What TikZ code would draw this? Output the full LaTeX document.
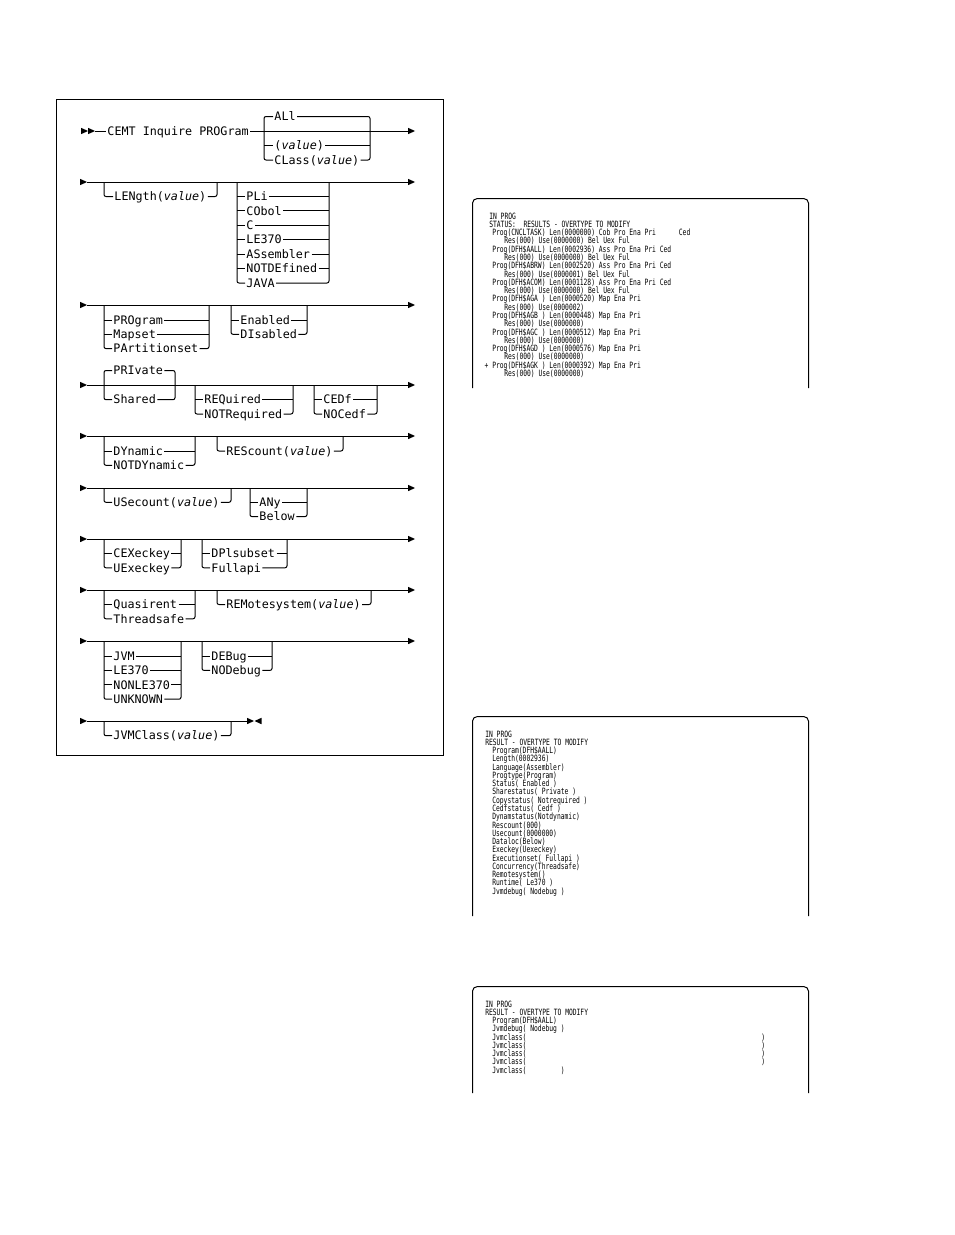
\documentclass[tikz,border=0pt]{standalone}
\usepackage{fontspec}
\newfontfamily\synf{DejaVu Sans Mono}
\newfontfamily\scrf{DejaVu Sans Mono}[FakeStretch=0.73]
\newcommand\rtri[2]{\fill (#1,#2-3.2) -- (#1+7,#2) -- (#1,#2+3.2) -- cycle;}
\newcommand\ltri[2]{\fill (#1+7,#2-3.2) -- (#1,#2) -- (#1+7,#2+3.2) -- cycle;}
\newcommand\sline[4]{\node[scrtext] (#1) at (#2,#3) {#4};}
\tikzset{
  syn/.style={line width=0.75pt},
  rc/.style={syn, rounded corners=1.5pt},
  synitem/.style={anchor=west, font=\synf\fontsize{8.8}{10}\selectfont, inner xsep=0.9pt, inner ysep=0pt, text height=6.4pt, text depth=0pt},
  scrtext/.style={anchor=west, font=\scrf\fontsize{6.5}{7}\selectfont, inner sep=0pt, text height=4.7pt, text depth=0pt},
  outerframe/.style={line width=0.75pt},
  scrbox/.style={line width=0.75pt}
}
\begin{document}
\begin{tikzpicture}[x=0.75pt,y=-0.75pt]
\useasboundingbox (0,0) rectangle (954,1235);
\fill[white] (0,0) rectangle (954,1235);
% outer frame
\draw[outerframe] (56.5,99.5) rectangle (443.5,755.5);

% ---------- Row 1 ----------
\rtri{81}{131}\rtri{88}{131}
\coordinate (r1s) at (95,131); \coordinate (r1e) at (408,131);
\node[synitem] (cemt) at (106,131) {CEMT Inquire PROGram};
\draw[syn] (r1s) -- (cemt.west); \draw[syn] (cemt.east) -- (r1e);
\rtri{408}{131}
\node[synitem] (all) at (273,116.5) {ALl};
\node[synitem] (val1) at (273,145.5) {(\textit{value})};
\node[synitem] (cls) at (273,160) {CLass(\textit{value})};
\draw[rc] (all.west) -| (264,131) |- (cls.west);
\draw[syn] (264,145.5) -- (val1.west);
\draw[rc] (all.east) -| (370,131) |- (cls.east);
\draw[syn] (val1.east) -- (370,145.5);

% ---------- Row 2 ----------
\rtri{80}{182}
\coordinate (r2s) at (87,182); \coordinate (r2e) at (408,182);
\draw[syn] (r2s) -- (r2e);
\rtri{408}{182}
\node[synitem] (len) at (113,196.5) {LENgth(\textit{value})};
\draw[rc] (104,182) |- (len.west);
\draw[rc] (len.east) -| (217,182);
\node[synitem] (pli) at (245,196.5) {PLi};
\node[synitem] (cob) at (245,210.9) {CObol};
\node[synitem] (lc) at (245,225.3) {C};
\node[synitem] (le1) at (245,239.7) {LE370};
\node[synitem] (ass) at (245,254.1) {ASsembler};
\node[synitem] (notd) at (245,268.5) {NOTDEfined};
\node[synitem] (java) at (245,283) {JAVA};
\draw[rc] (237,182) |- (java.west);
\foreach \n/\y in {pli/196.5,cob/210.9,lc/225.3,le1/239.7,ass/254.1,notd/268.5}
  {\draw[syn] (237,\y) -- (\n.west); \draw[syn] (\n.east) -- (329,\y);}
\draw[rc] (java.east) -| (329,182);

% ---------- Row 3 ----------
\rtri{80}{305}
\coordinate (r3s) at (87,305); \coordinate (r3e) at (408,305);
\draw[syn] (r3s) -- (r3e);
\rtri{408}{305}
\node[synitem] (prog) at (112,320) {PROgram};
\node[synitem] (maps) at (112,334.3) {Mapset};
\node[synitem] (part) at (112,348.6) {PArtitionset};
\draw[rc] (104,305) |- (part.west);
\draw[syn] (104,320) -- (prog.west); \draw[syn] (prog.east) -- (209,320);
\draw[syn] (104,334.3) -- (maps.west); \draw[syn] (maps.east) -- (209,334.3);
\draw[rc] (part.east) -| (209,305);
\node[synitem] (ena) at (239,320) {Enabled};
\node[synitem] (dis) at (239,334.3) {DIsabled};
\draw[rc] (231,305) |- (dis.west);
\draw[syn] (231,320) -- (ena.west); \draw[syn] (ena.east) -- (307,320);
\draw[rc] (dis.east) -| (307,305);

% ---------- Row 4 ----------
\rtri{80}{385}
\coordinate (r4s) at (87,385); \coordinate (r4e) at (408,385);
\draw[syn] (r4s) -- (r4e);
\rtri{408}{385}
\node[synitem] (pri) at (112,370.5) {PRIvate};
\node[synitem] (sha) at (112,399.7) {Shared};
\draw[rc] (pri.west) -| (104,385) |- (sha.west);
\draw[rc] (pri.east) -| (175,385) |- (sha.east);
\node[synitem] (req) at (203,399.7) {REQuired};
\node[synitem] (notr) at (203,414) {NOTRequired};
\draw[rc] (195,385) |- (notr.west);
\draw[syn] (195,399.7) -- (req.west); \draw[syn] (req.east) -- (293,399.7);
\draw[rc] (notr.east) -| (293,385);
\node[synitem] (cedf) at (322,399.7) {CEDf};
\node[synitem] (noce) at (322,414) {NOCedf};
\draw[rc] (314,385) |- (noce.west);
\draw[syn] (314,399.7) -- (cedf.west); \draw[syn] (cedf.east) -- (377,399.7);
\draw[rc] (noce.east) -| (377,385);

% ---------- Row 5 ----------
\rtri{80}{436}
\coordinate (r5s) at (87,436); \coordinate (r5e) at (408,436);
\draw[syn] (r5s) -- (r5e);
\rtri{408}{436}
\node[synitem] (dyn) at (112,451) {DYnamic};
\node[synitem] (notdy) at (112,465.3) {NOTDYnamic};
\draw[rc] (104,436) |- (notdy.west);
\draw[syn] (104,451) -- (dyn.west); \draw[syn] (dyn.east) -- (195,451);
\draw[rc] (notdy.east) -| (195,436);
\node[synitem] (res) at (225,451) {REScount(\textit{value})};
\draw[rc] (217,436) |- (res.west);
\draw[rc] (res.east) -| (343,436);

% ---------- Row 6 ----------
\rtri{80}{488}
\coordinate (r6s) at (87,488); \coordinate (r6e) at (408,488);
\draw[syn] (r6s) -- (r6e);
\rtri{408}{488}
\node[synitem] (use) at (112,502.3) {USecount(\textit{value})};
\draw[rc] (104,488) |- (use.west);
\draw[rc] (use.east) -| (231,488);
\node[synitem] (any) at (258,502.3) {ANy};
\node[synitem] (bel) at (258,516.6) {Below};
\draw[rc] (250,488) |- (bel.west);
\draw[syn] (250,502.3) -- (any.west); \draw[syn] (any.east) -- (307,502.3);
\draw[rc] (bel.east) -| (307,488);

% ---------- Row 7 ----------
\rtri{80}{539}
\coordinate (r7s) at (87,539); \coordinate (r7e) at (408,539);
\draw[syn] (r7s) -- (r7e);
\rtri{408}{539}
\node[synitem] (cex) at (112,553.5) {CEXeckey};
\node[synitem] (uex) at (112,567.8) {UExeckey};
\draw[rc] (104,539) |- (uex.west);
\draw[syn] (104,553.5) -- (cex.west); \draw[syn] (cex.east) -- (181,553.5);
\draw[rc] (uex.east) -| (181,539);
\node[synitem] (dpl) at (210,553.5) {DPlsubset};
\node[synitem] (full) at (210,567.8) {Fullapi};
\draw[rc] (202,539) |- (full.west);
\draw[syn] (202,553.5) -- (dpl.west); \draw[syn] (dpl.east) -- (287,553.5);
\draw[rc] (full.east) -| (287,539);

% ---------- Row 8 ----------
\rtri{80}{590}
\coordinate (r8s) at (87,590); \coordinate (r8e) at (408,590);
\draw[syn] (r8s) -- (r8e);
\rtri{408}{590}
\node[synitem] (qua) at (112,604.5) {Quasirent};
\node[synitem] (thr) at (112,618.8) {Threadsafe};
\draw[rc] (104,590) |- (thr.west);
\draw[syn] (104,604.5) -- (qua.west); \draw[syn] (qua.east) -- (195,604.5);
\draw[rc] (thr.east) -| (195,590);
\node[synitem] (rem) at (225,604.5) {REMotesystem(\textit{value})};
\draw[rc] (217,590) |- (rem.west);
\draw[rc] (rem.east) -| (371,590);

% ---------- Row 9 ----------
\rtri{80}{641}
\coordinate (r9s) at (87,641); \coordinate (r9e) at (408,641);
\draw[syn] (r9s) -- (r9e);
\rtri{408}{641}
\node[synitem] (jvm) at (112,656) {JVM};
\node[synitem] (le2) at (112,670.4) {LE370};
\node[synitem] (nonle) at (112,684.8) {NONLE370};
\node[synitem] (unk) at (112,699.2) {UNKNOWN};
\draw[rc] (104,641) |- (unk.west);
\foreach \n/\y in {jvm/656,le2/670.4,nonle/684.8}
  {\draw[syn] (104,\y) -- (\n.west); \draw[syn] (\n.east) -- (181,\y);}
\draw[rc] (unk.east) -| (181,641);
\node[synitem] (deb) at (210,656) {DEBug};
\node[synitem] (nodeb) at (210,670.4) {NODebug};
\draw[rc] (202,641) |- (nodeb.west);
\draw[syn] (202,656) -- (deb.west); \draw[syn] (deb.east) -- (272,656);
\draw[rc] (nodeb.east) -| (272,641);

% ---------- Row 10 ----------
\rtri{80}{721}
\coordinate (r10s) at (87,721); \coordinate (r10e) at (247,721);
\draw[syn] (r10s) -- (r10e);
\rtri{247}{721}\ltri{254.5}{721}
\node[synitem] (jvmc) at (112,735.7) {JVMClass(\textit{value})};
\draw[rc] (104,721) |- (jvmc.west);
\draw[rc] (jvmc.east) -| (231,721);

% ---------- Screen boxes ----------
\draw[scrbox] (472.5,388) -- (472.5,203) to[out=90,in=180] (477.5,198.5) -- (803.5,198.5) to[out=0,in=90] (808.5,203) -- (808.5,388);
\draw[scrbox] (472.5,916) -- (472.5,721) to[out=90,in=180] (477.5,716.5) -- (803.5,716.5) to[out=0,in=90] (808.5,721) -- (808.5,916);
\draw[scrbox] (472.5,1093) -- (472.5,991) to[out=90,in=180] (477.5,986.5) -- (803.5,986.5) to[out=0,in=90] (808.5,991) -- (808.5,1093);

% box 1
\def\ya{216}\def\dy{8.28}
\sline{b1a}{489}{\ya}{IN PROG}
\sline{b1b}{489}{\ya+\dy}{STATUS:~~RESULTS - OVERTYPE TO MODIFY}
\sline{b1c}{492}{\ya+2*\dy}{Prog(CNCLTASK) Len(0000000) Cob Pro Ena Pri~~~~~~Ced}
\sline{b1d}{504}{\ya+3*\dy}{Res(000) Use(0000000) Bel Uex Ful}
\sline{b1e}{492}{\ya+4*\dy}{Prog(DFH\$AALL) Len(0002936) Ass Pro Ena Pri Ced}
\sline{b1f}{504}{\ya+5*\dy}{Res(000) Use(0000000) Bel Uex Ful}
\sline{b1g}{492}{\ya+6*\dy}{Prog(DFH\$ABRW) Len(0002520) Ass Pro Ena Pri Ced}
\sline{b1h}{504}{\ya+7*\dy}{Res(000) Use(0000001) Bel Uex Ful}
\sline{b1i}{492}{\ya+8*\dy}{Prog(DFH\$ACOM) Len(0001128) Ass Pro Ena Pri Ced}
\sline{b1j}{504}{\ya+9*\dy}{Res(000) Use(0000000) Bel Uex Ful}
\sline{b1k}{492}{\ya+10*\dy}{Prog(DFH\$AGA~) Len(0000520) Map Ena Pri}
\sline{b1l}{504}{\ya+11*\dy}{Res(000) Use(0000002)}
\sline{b1m}{492}{\ya+12*\dy}{Prog(DFH\$AGB~) Len(0000448) Map Ena Pri}
\sline{b1n}{504}{\ya+13*\dy}{Res(000) Use(0000000)}
\sline{b1o}{492}{\ya+14*\dy}{Prog(DFH\$AGC~) Len(0000512) Map Ena Pri}
\sline{b1p}{504}{\ya+15*\dy}{Res(000) Use(0000000)}
\sline{b1q}{492}{\ya+16*\dy}{Prog(DFH\$AGD~) Len(0000576) Map Ena Pri}
\sline{b1r}{504}{\ya+17*\dy}{Res(000) Use(0000000)}
\sline{b1s}{484.4}{\ya+18*\dy}{+ Prog(DFH\$AGK~) Len(0000392) Map Ena Pri}
\sline{b1t}{504}{\ya+19*\dy}{Res(000) Use(0000000)}

% box 2
\def\yb{734}\def\dyb{8.263}
\sline{b2a}{485}{\yb}{IN PROG}
\sline{b2b}{485}{\yb+\dyb}{RESULT - OVERTYPE TO MODIFY}
\sline{b2c}{492}{\yb+2*\dyb}{Program(DFH\$AALL)}
\sline{b2d}{492}{\yb+3*\dyb}{Length(0002936)}
\sline{b2e}{492}{\yb+4*\dyb}{Language(Assembler)}
\sline{b2f}{492}{\yb+5*\dyb}{Progtype(Program)}
\sline{b2g}{492}{\yb+6*\dyb}{Status( Enabled )}
\sline{b2h}{492}{\yb+7*\dyb}{Sharestatus( Private )}
\sline{b2i}{492}{\yb+8*\dyb}{Copystatus( Notrequired )}
\sline{b2j}{492}{\yb+9*\dyb}{Cedfstatus( Cedf )}
\sline{b2k}{492}{\yb+10*\dyb}{Dynamstatus(Notdynamic)}
\sline{b2l}{492}{\yb+11*\dyb}{Rescount(000)}
\sline{b2m}{492}{\yb+12*\dyb}{Usecount(0000000)}
\sline{b2n}{492}{\yb+13*\dyb}{Dataloc(Below)}
\sline{b2o}{492}{\yb+14*\dyb}{Execkey(Uexeckey)}
\sline{b2p}{492}{\yb+15*\dyb}{Executionset( Fullapi )}
\sline{b2q}{492}{\yb+16*\dyb}{Concurrency(Threadsafe)}
\sline{b2r}{492}{\yb+17*\dyb}{Remotesystem()}
\sline{b2s}{492}{\yb+18*\dyb}{Runtime( Le370 )}
\sline{b2t}{492}{\yb+19*\dyb}{Jvmdebug( Nodebug )}

% box 3
\def\yc{1004}\def\dyc{8.25}
\sline{b3a}{485}{\yc}{IN PROG}
\sline{b3b}{485}{\yc+\dyc}{RESULT - OVERTYPE TO MODIFY}
\sline{b3c}{492}{\yc+2*\dyc}{Program(DFH\$AALL)}
\sline{b3d}{492}{\yc+3*\dyc}{Jvmdebug( Nodebug )}
\sline{b3e}{492}{\yc+4*\dyc}{Jvmclass(}
\sline{b3f}{492}{\yc+5*\dyc}{Jvmclass(}
\sline{b3g}{492}{\yc+6*\dyc}{Jvmclass(}
\sline{b3h}{492}{\yc+7*\dyc}{Jvmclass(}
\sline{b3i}{492}{\yc+8*\dyc}{Jvmclass(~~~~~~~~~)}
\sline{b3ep}{761}{\yc+4*\dyc}{)}
\sline{b3fp}{761}{\yc+5*\dyc}{)}
\sline{b3gp}{761}{\yc+6*\dyc}{)}
\sline{b3hp}{761}{\yc+7*\dyc}{)}
\end{tikzpicture}
\end{document}
